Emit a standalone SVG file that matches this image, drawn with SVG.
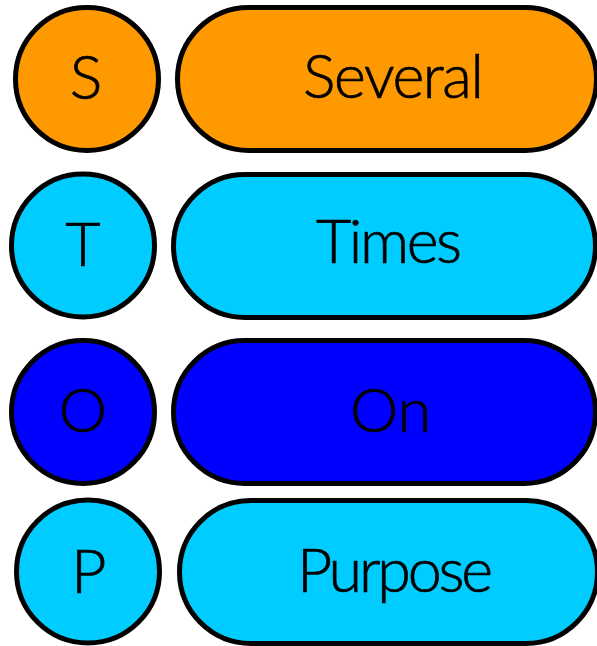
<svg xmlns="http://www.w3.org/2000/svg" width="597" height="646" viewBox="0 0 597 646">
<style>
.s{stroke:#000;stroke-width:5}
.or{fill:#FF9900}
.cy{fill:#00CCFF}
.bl{fill:#0000FF}
text{font-family:Lato,"Open Sans",sans-serif;font-weight:300;font-size:61px;fill:#000;stroke:#000;stroke-width:0.7;text-anchor:middle}
</style>
<rect width="597" height="646" fill="#fff"/>
<g id="node-s-letter"><circle class="s or" cx="87" cy="79" r="71.5"/><text x="86" y="99">S</text></g>
<g id="node-several"><rect class="s or" x="177.5" y="7.5" width="419" height="143" rx="71.5"/><text x="393.5" y="98" textLength="181">Several</text></g>
<g id="node-t-letter"><circle class="s cy" cx="83" cy="245.5" r="71.5"/><text x="83" y="266">T</text></g>
<g id="node-times"><rect class="s cy" x="173.5" y="174.5" width="422" height="143" rx="71.5"/><text x="389" y="263" textLength="146">Times</text></g>
<g id="node-o-letter"><circle class="s bl" cx="83" cy="412" r="71.5"/><text x="83" y="432">O</text></g>
<g id="node-on"><rect class="s bl" x="173.5" y="340.5" width="422" height="143" rx="71.5"/><text x="390.5" y="432">On</text></g>
<g id="node-p-letter"><circle class="s cy" cx="88" cy="571.5" r="71.5"/><text x="89" y="593">P</text></g>
<g id="node-purpose"><rect class="s cy" x="179.5" y="500.5" width="418" height="143" rx="71.5"/><text x="395" y="592" textLength="196">Purpose</text></g>
<g id="connectors"/>
</svg>
